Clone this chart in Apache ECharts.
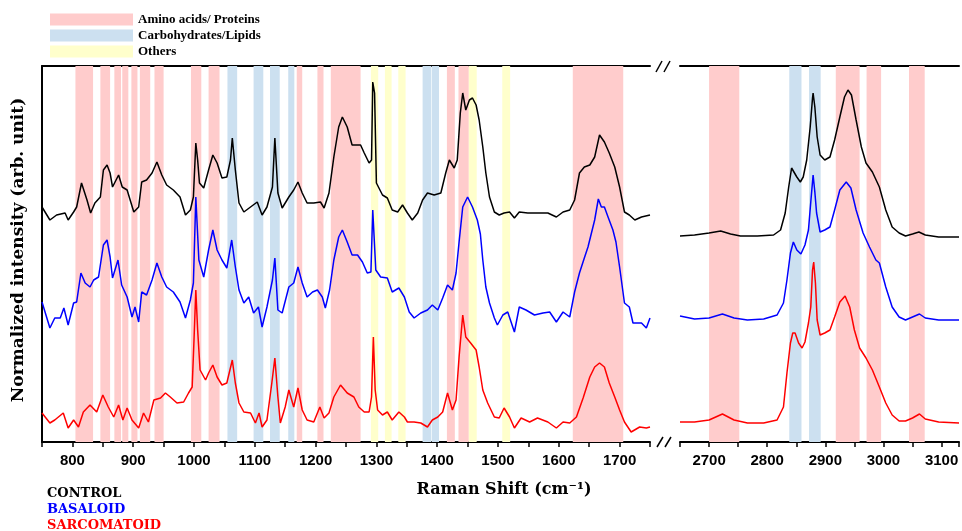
<!DOCTYPE html>
<html>
<head>
<meta charset="utf-8">
<script src="https://cdn.jsdelivr.net/npm/echarts@6/dist/echarts.min.js"></script>
<style>
  html, body { margin: 0; padding: 0; background: #fff; }
  #container { width: 962px; height: 531px; }
</style>
</head>
<body>
<div id="container"></div>
<script>
// band positions (cm-1)
var proteinBandsLow = [[805,834],[846,862],[869,880],[882,892],[897,907],[911,928],[935,950],[995,1012],[1024,1042],[1169,1178],[1203,1213],[1225,1274],[1416,1429],[1435,1452],[1623,1706]];
var lipidBandsLow = [[1055,1071],[1098,1114],[1125,1141],[1155,1165],[1376,1390],[1391,1403]];
var otherBandsLow = [[1291,1303],[1314,1325],[1336,1348],[1452,1465],[1507,1520]];
var proteinBandsHigh = [[2700,2752],[2918,2959],[2971,2996],[3044,3071]];
var lipidBandsHigh = [[2838,2859],[2872,2892]];

// spectra: [raman shift, offset intensity]
var controlLow = [[750,235],[763,222],[774,227],[788,229],[793,222],[802,230],[807,235],[815,259],[824,242],[830,229],[837,239],[846,245],[851,272],[857,277],[862,269],[866,255],[876,267],[882,255],[890,252],[895,242],[901,230],[909,235],[914,260],[922,262],[931,269],[939,280],[947,267],[955,257],[966,252],[977,245],[986,227],[994,232],[999,245],[1003,299],[1006,282],[1009,259],[1016,254],[1024,272],[1031,287],[1038,279],[1046,264],[1054,265],[1060,282],[1063,304],[1068,272],[1074,239],[1082,230],[1093,235],[1104,240],[1112,227],[1120,235],[1129,255],[1133,304],[1138,249],[1145,234],[1156,245],[1164,252],[1171,260],[1178,249],[1186,239],[1197,239],[1208,240],[1214,234],[1222,249],[1230,285],[1238,315],[1244,325],[1252,315],[1260,297],[1269,297],[1274,297],[1280,289],[1288,279],[1292,282],[1294,360],[1297,349],[1300,259],[1310,247],[1318,244],[1326,232],[1335,230],[1343,237],[1351,229],[1359,222],[1368,229],[1376,242],[1384,249],[1395,247],[1406,249],[1414,269],[1420,282],[1428,274],[1433,282],[1438,329],[1442,349],[1447,332],[1453,342],[1458,344],[1464,337],[1469,322],[1475,295],[1480,269],[1486,245],[1494,230],[1502,227],[1510,229],[1519,230],[1527,224],[1535,230],[1549,229],[1565,229],[1582,229],[1596,225],[1607,230],[1618,232],[1626,242],[1634,269],[1642,275],[1651,277],[1659,285],[1667,307],[1675,300],[1683,289],[1692,275],[1700,255],[1708,230],[1716,227],[1725,222],[1736,225],[1750,227]];
var basaloidLow = [[750,140],[763,114],[771,124],[780,124],[786,134],[793,117],[802,139],[807,140],[814,169],[821,159],[829,155],[835,162],[843,165],[851,197],[857,202],[862,185],[866,164],[875,182],[881,157],[890,145],[898,125],[903,135],[909,120],[914,150],[922,147],[931,162],[939,179],[947,165],[955,155],[966,150],[977,140],[986,124],[994,142],[999,159],[1003,245],[1008,182],[1016,165],[1024,192],[1031,212],[1038,192],[1046,182],[1054,174],[1062,202],[1068,175],[1074,152],[1082,139],[1090,145],[1098,129],[1106,135],[1112,115],[1120,135],[1129,162],[1133,184],[1138,132],[1145,129],[1156,155],[1164,159],[1171,175],[1178,159],[1186,145],[1195,150],[1203,152],[1211,145],[1216,134],[1223,152],[1230,182],[1238,205],[1244,212],[1252,200],[1260,187],[1269,187],[1277,180],[1285,169],[1291,170],[1294,232],[1299,172],[1307,165],[1318,164],[1326,150],[1337,154],[1346,145],[1354,130],[1362,124],[1373,129],[1384,132],[1392,137],[1401,132],[1409,144],[1417,157],[1425,152],[1431,169],[1436,200],[1442,235],[1450,245],[1458,235],[1466,222],[1471,208],[1475,182],[1480,155],[1486,139],[1494,124],[1499,117],[1508,127],[1516,130],[1527,110],[1535,135],[1546,132],[1560,127],[1574,129],[1585,130],[1596,120],[1607,130],[1618,125],[1626,150],[1634,169],[1642,184],[1648,195],[1659,222],[1665,243],[1670,235],[1675,235],[1681,225],[1689,212],[1694,200],[1700,175],[1708,139],[1716,135],[1722,119],[1736,119],[1744,114],[1750,124]];
var sarcomatoidLow = [[750,29],[763,19],[771,22],[785,29],[793,14],[802,22],[810,15],[818,30],[829,37],[840,30],[850,47],[859,35],[868,25],[876,37],[883,22],[890,34],[898,22],[909,14],[917,29],[925,20],[934,42],[945,44],[953,49],[961,45],[972,39],[983,40],[991,49],[997,55],[1000,102],[1003,152],[1006,112],[1010,72],[1019,62],[1024,69],[1031,77],[1038,65],[1046,57],[1054,59],[1063,82],[1068,59],[1074,39],[1082,30],[1093,29],[1101,19],[1107,29],[1112,15],[1120,22],[1128,59],[1133,84],[1138,45],[1142,19],[1150,35],[1156,52],[1164,35],[1171,54],[1178,32],[1186,22],[1197,20],[1207,35],[1214,24],[1222,29],[1230,45],[1241,57],[1252,49],[1263,45],[1271,35],[1280,30],[1288,30],[1292,45],[1295,105],[1298,52],[1302,32],[1310,27],[1318,30],[1326,22],[1337,30],[1346,25],[1351,20],[1362,20],[1373,19],[1384,15],[1392,22],[1401,25],[1409,30],[1417,49],[1425,32],[1431,42],[1436,85],[1442,127],[1447,105],[1455,99],[1464,92],[1469,75],[1475,52],[1483,39],[1494,25],[1502,24],[1510,34],[1519,25],[1527,14],[1538,24],[1552,20],[1565,24],[1582,20],[1596,14],[1607,20],[1618,19],[1629,25],[1640,44],[1651,65],[1659,75],[1667,79],[1675,75],[1683,59],[1692,45],[1700,32],[1708,20],[1719,10],[1733,15],[1744,14],[1750,15]];

var controlHigh = [[2650,206],[2675,207],[2700,209],[2720,211],[2737,208],[2754,206],[2783,206],[2811,207],[2823,212],[2831,229],[2837,255],[2842,274],[2845,275],[2851,265],[2857,260],[2862,265],[2868,282],[2874,315],[2878,344],[2879,349],[2882,335],[2886,305],[2891,287],[2899,282],[2908,285],[2916,302],[2925,325],[2933,345],[2939,352],[2945,347],[2953,322],[2962,295],[2970,279],[2981,270],[2993,255],[3004,232],[3015,215],[3027,209],[3038,206],[3050,208],[3061,210],[3072,207],[3095,205],[3130,205]];
var basaloidHigh = [[2650,126],[2675,123],[2700,124],[2723,128],[2743,124],[2766,122],[2794,123],[2817,127],[2828,139],[2834,162],[2840,189],[2845,200],[2851,192],[2858,188],[2865,197],[2871,212],[2875,240],[2879,267],[2882,250],[2885,229],[2891,210],[2899,212],[2908,215],[2916,232],[2925,252],[2936,260],[2944,254],[2953,232],[2965,209],[2976,195],[2987,182],[2993,179],[3004,155],[3015,135],[3027,125],[3038,122],[3050,125],[3062,128],[3072,124],[3095,122],[3130,122]];
var sarcomatoidHigh = [[2650,20],[2675,20],[2700,22],[2723,28],[2743,22],[2766,19],[2794,19],[2817,22],[2828,35],[2834,69],[2840,99],[2844,109],[2848,109],[2854,99],[2860,94],[2865,100],[2871,119],[2875,135],[2878,172],[2880,180],[2883,159],[2886,122],[2891,107],[2899,109],[2908,112],[2916,125],[2925,140],[2934,146],[2942,135],[2950,112],[2959,94],[2970,84],[2981,72],[2993,55],[3004,39],[3015,27],[3027,21],[3038,21],[3050,24],[3062,28],[3072,23],[3095,20],[3130,19]];

var proteinColor = '#FFCCCC';
var lipidColor = '#CCE0F0';
var otherColor = '#FFFFCC';

function bandSeries(name, bands, color, idx) {
  return {
    name: name, type: 'line', xAxisIndex: idx, yAxisIndex: idx,
    data: [], color: color, itemStyle: { color: color }, silent: true, z: 1,
    markArea: {
      silent: true,
      itemStyle: { color: color, opacity: 1 },
      data: bands.map(function (b) { return [{ xAxis: b[0] }, { xAxis: b[1] }]; })
    }
  };
}
function specSeries(name, data, color, idx) {
  return {
    name: name, type: 'line', xAxisIndex: idx, yAxisIndex: idx,
    data: data, showSymbol: false, symbol: 'none', z: 5,
    lineStyle: { color: color, width: 1.5 }, itemStyle: { color: color }
  };
}
function bottomAxis(idx, min, max) {
  return {
    type: 'value', gridIndex: idx, min: min, max: max, interval: 50, position: 'bottom',
    axisLine: { show: true, onZero: false, lineStyle: { color: '#000', width: 2 } },
    axisTick: { show: true, inside: false, length: 5, lineStyle: { color: '#000', width: 1.5 } },
    axisLabel: {
      margin: 11, color: '#000', fontFamily: 'Liberation Sans', fontWeight: 'bold', fontSize: 15,
      showMinLabel: true, showMaxLabel: true,
      formatter: function (v) { return v % 100 === 0 ? String(v) : ''; }
    },
    splitLine: { show: false }
  };
}
function topAxis(idx, min, max) {
  return {
    type: 'value', gridIndex: idx, min: min, max: max, position: 'top',
    axisLine: { show: true, onZero: false, lineStyle: { color: '#000', width: 2 } },
    axisTick: { show: false }, axisLabel: { show: false }, splitLine: { show: false }
  };
}

var myChart = echarts.init(document.getElementById('container'));
var option = {
  animation: false,
  backgroundColor: '#fff',
  grid: [
    { left: 42, top: 66, width: 608, height: 376 },
    { left: 680, top: 66, width: 281, height: 376 }
  ],
  xAxis: [
    bottomAxis(0, 750, 1750),
    bottomAxis(1, 2650, 3130),
    topAxis(0, 750, 1750),
    topAxis(1, 2650, 3130)
  ],
  yAxis: [
    { type: 'value', gridIndex: 0, min: 0, max: 376,
      axisLine: { show: true, lineStyle: { color: '#000', width: 2 } },
      axisTick: { show: false }, axisLabel: { show: false }, splitLine: { show: false } },
    { type: 'value', gridIndex: 1, min: 0, max: 376,
      axisLine: { show: false }, axisTick: { show: false }, axisLabel: { show: false }, splitLine: { show: false } }
  ],
  legend: {
    left: 45, top: 8, orient: 'vertical', icon: 'rect',
    itemWidth: 83, itemHeight: 12, itemGap: 3,
    selectedMode: false,
    data: ['Amino acids/ Proteins', 'Carbohydrates/Lipids', 'Others'],
    textStyle: { color: '#000', fontFamily: 'Liberation Serif', fontWeight: 'bold', fontSize: 13 }
  },
  series: [
    bandSeries('Amino acids/ Proteins', proteinBandsLow, proteinColor, 0),
    bandSeries('Carbohydrates/Lipids', lipidBandsLow, lipidColor, 0),
    bandSeries('Others', otherBandsLow, otherColor, 0),
    bandSeries('Amino acids/ Proteins', proteinBandsHigh, proteinColor, 1),
    bandSeries('Carbohydrates/Lipids', lipidBandsHigh, lipidColor, 1),
    specSeries('CONTROL', controlLow, '#000000', 0),
    specSeries('BASALOID', basaloidLow, '#0000FF', 0),
    specSeries('SARCOMATOID', sarcomatoidLow, '#FF0000', 0),
    specSeries('CONTROL', controlHigh, '#000000', 1),
    specSeries('BASALOID', basaloidHigh, '#0000FF', 1),
    specSeries('SARCOMATOID', sarcomatoidHigh, '#FF0000', 1)
  ],
  graphic: [
    { type: 'text', x: 19, y: 250, rotation: Math.PI / 2,
      style: { text: 'Normalized intensity (arb. unit)', fill: '#000', font: 'bold 17px "DejaVu Serif"', textAlign: 'center', textVerticalAlign: 'middle' } },
    { type: 'text', x: 504, y: 490,
      style: { text: 'Raman Shift (cm⁻¹)', fill: '#000', font: 'bold 16px "DejaVu Serif"', textAlign: 'center', textVerticalAlign: 'middle' } },
    { type: 'text', x: 47, y: 494,
      style: { text: 'CONTROL', fill: '#000', font: 'bold 13px "DejaVu Serif"', textVerticalAlign: 'middle' } },
    { type: 'text', x: 47, y: 510,
      style: { text: 'BASALOID', fill: '#0000FF', font: 'bold 13px "DejaVu Serif"', textVerticalAlign: 'middle' } },
    { type: 'text', x: 47, y: 526,
      style: { text: 'SARCOMATOID', fill: '#FF0000', font: 'bold 13px "DejaVu Serif"', textVerticalAlign: 'middle' } },
    // axis break marks
    { type: 'line', shape: { x1: 657, y1: 447, x2: 663, y2: 437 }, style: { stroke: '#000', lineWidth: 1.5 } },
    { type: 'line', shape: { x1: 665, y1: 447, x2: 671, y2: 437 }, style: { stroke: '#000', lineWidth: 1.5 } },
    { type: 'line', shape: { x1: 656, y1: 72, x2: 662, y2: 61 }, style: { stroke: '#000', lineWidth: 1.5 } },
    { type: 'line', shape: { x1: 664, y1: 72, x2: 670, y2: 61 }, style: { stroke: '#000', lineWidth: 1.5 } }
  ]
};
myChart.setOption(option);
</script>
</body>
</html>
